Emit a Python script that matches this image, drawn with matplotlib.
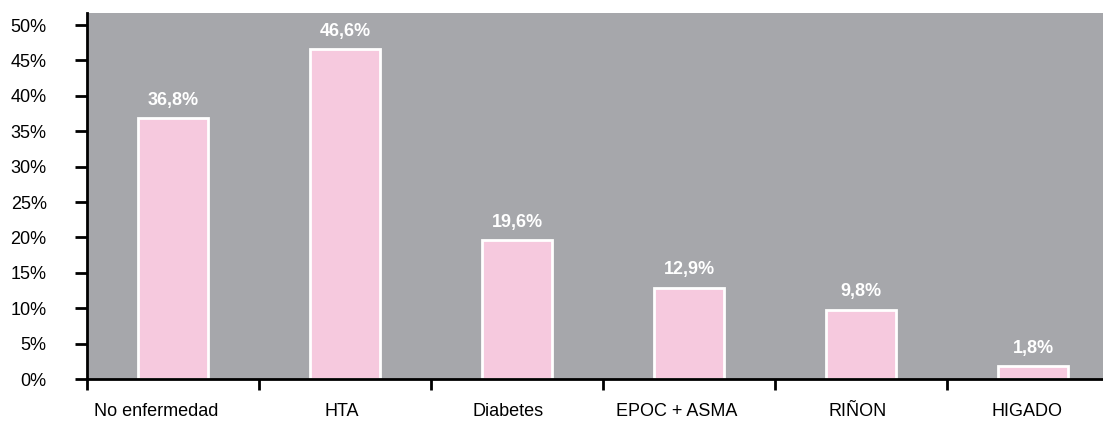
import matplotlib.pyplot as plt
import matplotlib.transforms as mtransforms
import numpy as np

categories = ["No enfermedad", "HTA", "Diabetes", "EPOC + ASMA", "RIÑON", "HIGADO"]
values = [36.8, 46.6, 19.6, 12.9, 9.8, 1.8]
yticks = [0, 5, 10, 15, 20, 25, 30, 35, 40, 45, 50]

plt.rcParams['font.family'] = ['Liberation Sans', 'DejaVu Sans']

fig = plt.figure(figsize=(11.03, 4.24), dpi=100)
# plot area runs past the right edge of the figure
ax = fig.add_axes([87 / 1103, 45 / 424, 1032 / 1103, 366 / 424])
ax.set_facecolor("#a6a7ab")

x = np.arange(len(categories))
ax.bar(x, values, width=0.41, color="#f6c9de", edgecolor="white", linewidth=2, zorder=2)

for xi, v in zip(x, values):
    ax.text(xi, v + 1.3, f"{v:.1f}%".replace(".", ","), ha="center", va="bottom",
            color="white", fontsize=13, fontweight="bold")

ax.set_xlim(-0.5, 5.5)
ax.set_ylim(0, 51.7)
ax.set_yticks(yticks)
ax.set_yticklabels([f"{t}%" for t in yticks], fontsize=13)
ax.set_xticks(np.arange(len(categories) + 1) - 0.5)
ax.set_xticklabels([])
ax.set_xticks(x, minor=True)
ax.set_xticklabels(categories, minor=True, fontsize=13)
ax.tick_params(axis="x", which="minor", length=0, pad=17)
ax.tick_params(axis="x", which="major", length=8, width=2, direction="out")
ax.tick_params(axis="y", length=9, width=2, direction="out", pad=20)
for lbl in ax.get_yticklabels():
    lbl.set_horizontalalignment("right")

# category labels sit a little left of the bar centres
shifts_px = [-17, -3, -9, -12, -3, -6]
for lbl, dx in zip(ax.get_xticklabels(minor=True), shifts_px):
    lbl.set_transform(lbl.get_transform() +
                      mtransforms.ScaledTranslation(dx / 100, 0, fig.dpi_scale_trans))

for s in ["top", "right"]:
    ax.spines[s].set_visible(False)
for s in ["left", "bottom"]:
    ax.spines[s].set_linewidth(2)

fig.savefig("out.png", dpi=100)
